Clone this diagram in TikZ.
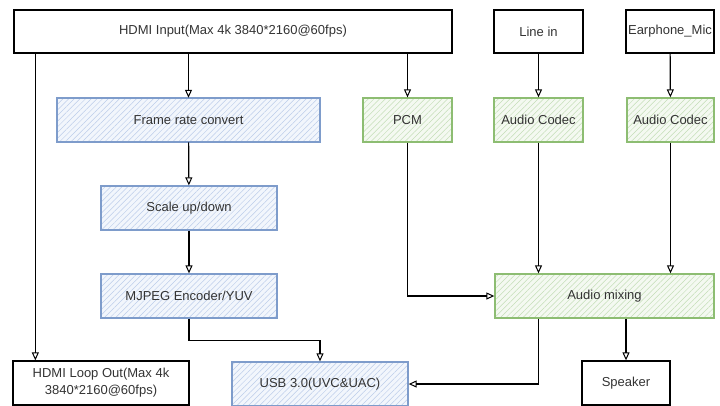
\documentclass[tikz,border=0pt]{standalone}
\usepackage{fontspec}
\setmainfont{Liberation Sans}
\usetikzlibrary{arrows.meta,patterns.meta}
\definecolor{vidline}{HTML}{7E9CCB}
\definecolor{vidfill}{HTML}{F2F6FC}
\definecolor{vidhatch}{HTML}{BCCDEA}
\definecolor{audline}{HTML}{8DBD72}
\definecolor{audfill}{HTML}{F4F9F1}
\definecolor{audhatch}{HTML}{C4DEB7}
\begin{document}
\begin{tikzpicture}[
x=1bp, y=-1bp,
every node/.style={rectangle,draw,line width=1.3bp,minimum height=44bp,inner sep=1bp,
  font=\fontsize{13bp}{17bp}\selectfont,text=black!80,align=center},
video/.style={draw=vidline,preaction={fill=vidfill},
  pattern={Lines[angle=45,distance=4bp,line width=0.5bp]},pattern color=vidhatch},
audio/.style={draw=audline,preaction={fill=audfill},
  pattern={Lines[angle=45,distance=4bp,line width=0.5bp]},pattern color=audhatch},
arr/.style={-{Triangle[open,length=8bp,width=7bp,line width=1bp]},line width=1.2bp},
]
\useasboundingbox (0,0) rectangle (720,405);

% inputs
\node[minimum width=438bp,minimum height=43bp] (hdmi) at (233,31.5) {HDMI Input(Max 4k 3840*2160@60fps)};
\node[minimum width=89bp,minimum height=43bp] (linein) at (538.5,31.5) {Line in};
\node[minimum width=88bp,minimum height=43bp] (mic) at (670,31.5) {Earphone\_Mic};

% video path
\node[video,minimum width=263bp] (frc) at (188.5,120) {Frame rate convert};
\node[video,minimum width=176bp] (scale) at (189,208) {Scale up/down};
\node[video,minimum width=176bp] (mjpeg) at (189,296) {MJPEG Encoder/YUV};

% audio path
\node[audio,minimum width=89bp] (pcm) at (407.5,120) {PCM};
\node[audio,minimum width=89bp] (codeca) at (538.5,120) {Audio Codec};
\node[audio,minimum width=87bp] (codecb) at (670.5,120) {Audio Codec};
\node[audio,minimum width=219bp] (mix) at (604.5,296) {Audio mixing};

% outputs
\node[minimum width=176bp] (loop) at (101,383) {HDMI Loop Out(Max 4k\\3840*2160@60fps)};
\node[video,minimum width=176bp] (usb) at (320,384) {USB 3.0(UVC\&UAC)};
\node[minimum width=88bp] (speaker) at (626,383) {Speaker};

\draw[arr] (frc.north |- hdmi.south) -- (frc.north);
\draw[arr] (pcm.north |- hdmi.south) -- (pcm.north);
\draw[arr] ([xshift=23bp]loop.north west |- hdmi.south) -- ([xshift=23bp]loop.north west);
\draw[arr] (linein) -- (codeca);
\draw[arr] (mic) -- (codecb);
\draw[arr] (frc) -- (scale);
\draw[arr] (scale) -- (mjpeg);
\draw[arr] (mjpeg.south) -- ++(0,22) -| (usb.north);
\draw[arr] (pcm.south) |- (mix.west);
\draw[arr] (codeca.south) -- (codeca.south |- mix.north);
\draw[arr] (codecb.south) -- (codecb.south |- mix.north);
\draw[arr] ([xshift=-66bp]mix.south) |- (usb.east);
\draw[arr] (speaker.north |- mix.south) -- (speaker.north);
\end{tikzpicture}
\end{document}
